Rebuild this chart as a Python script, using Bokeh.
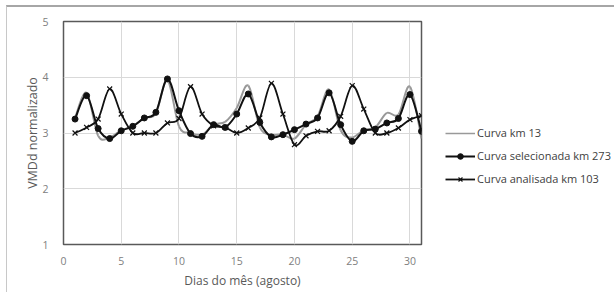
from bokeh.plotting import figure
from bokeh.layouts import row
from bokeh.models import Legend, LegendItem, FixedTicker, Range1d, ColumnDataSource, InlineStyleSheet
from bokeh.embed import file_html
from bokeh.resources import INLINE

days = list(range(1, 32))
km13 = [3.27, 3.72, 2.95, 2.92, 3.05, 3.12, 3.27, 3.35, 3.95, 3.12, 3.00, 2.97,
        3.15, 3.20, 3.45, 3.85, 3.10, 2.97, 2.97, 2.90, 3.15, 3.30, 3.78, 3.05,
        2.92, 3.05, 3.10, 3.36, 3.33, 3.83, 2.90]
km273 = [3.25, 3.67, 3.08, 2.90, 3.04, 3.12, 3.27, 3.37, 3.97, 3.40, 2.99, 2.94,
         3.15, 3.10, 3.34, 3.70, 3.19, 2.93, 2.97, 3.06, 3.16, 3.27, 3.72, 3.15,
         2.85, 3.04, 3.07, 3.18, 3.26, 3.69, 3.03]
km103 = [3.00, 3.10, 3.25, 3.79, 3.34, 3.00, 3.00, 3.00, 3.18, 3.26, 3.83, 3.34,
         3.13, 3.10, 3.00, 3.09, 3.27, 3.89, 3.34, 2.79, 2.95, 3.03, 3.04, 3.30,
         3.85, 3.43, 3.00, 3.00, 3.09, 3.24, 3.31]
labels = ["Curva km 13", "Curva selecionada km 273", "Curva analisada km 103"]
x_ticks = [0, 5, 10, 15, 20, 25, 30]
y_ticks = [1, 2, 3, 4, 5]

FONT = "Open Sans"
GRAY = "#999999"
BLACK = "#111111"


def smooth_segments(xs, ys, t=1.0 / 6):
    n = len(xs)
    d = dict(x0=[], y0=[], x1=[], y1=[], cx0=[], cy0=[], cx1=[], cy1=[])
    for i in range(n - 1):
        im1 = max(i - 1, 0)
        ip2 = min(i + 2, n - 1)
        d["x0"].append(xs[i]); d["y0"].append(ys[i])
        d["x1"].append(xs[i + 1]); d["y1"].append(ys[i + 1])
        d["cx0"].append(xs[i] + (xs[i + 1] - xs[im1]) * t)
        d["cy0"].append(ys[i] + (ys[i + 1] - ys[im1]) * t)
        d["cx1"].append(xs[i + 1] - (xs[ip2] - xs[i]) * t)
        d["cy1"].append(ys[i + 1] - (ys[ip2] - ys[i]) * t)
    return ColumnDataSource(d)


p = figure(width=419, height=287, output_backend="svg", toolbar_location=None,
           x_range=Range1d(0, 31), y_range=Range1d(1, 5),
           min_border_left=56, min_border_right=5, min_border_top=14,
           min_border_bottom=50)
p.stylesheets = [InlineStyleSheet(
    css=":host { margin-left: 6px; margin-top: 5px; "
        "border-left: 1px solid #c8c8c8; border-top: 2px solid #a6a6a6; }")]

p.outline_line_color = "#595959"
p.outline_line_width = 1.5
for ax in (p.xaxis[0], p.yaxis[0]):
    ax.axis_line_color = None
    ax.major_tick_line_color = None
    ax.minor_tick_line_color = None
    ax.major_label_text_font = FONT
    ax.major_label_text_font_size = "10.5px"
    ax.major_label_text_color = "#808080"
    ax.axis_label_text_font = FONT
    ax.axis_label_text_font_size = "12px"
    ax.axis_label_text_font_style = "normal"
    ax.axis_label_text_color = "#595959"
p.yaxis.axis_label_text_font_size = "12.5px"

p.xaxis.ticker = FixedTicker(ticks=x_ticks)
p.yaxis.ticker = FixedTicker(ticks=y_ticks)
p.xaxis.axis_label = "Dias do mês (agosto)"
p.yaxis.axis_label = "VMDd normalizado"
p.xaxis.major_label_standoff = 6
p.xaxis.axis_label_standoff = 4
p.yaxis.major_label_standoff = 9
p.yaxis.axis_label_standoff = -2

p.xgrid.grid_line_color = "#d9d9d9"
p.ygrid.grid_line_color = "#d9d9d9"

p.bezier(x0="x0", y0="y0", x1="x1", y1="y1", cx0="cx0", cy0="cy0",
         cx1="cx1", cy1="cy1", source=smooth_segments(days, km13),
         line_color=GRAY, line_width=2)
p.bezier(x0="x0", y0="y0", x1="x1", y1="y1", cx0="cx0", cy0="cy0",
         cx1="cx1", cy1="cy1", source=smooth_segments(days, km273),
         line_color=BLACK, line_width=2)
p.scatter(days, km273, marker="circle", size=6, fill_color=BLACK, line_color=BLACK)
p.bezier(x0="x0", y0="y0", x1="x1", y1="y1", cx0="cx0", cy0="cy0",
         cx1="cx1", cy1="cy1", source=smooth_segments(days, km103),
         line_color=BLACK, line_width=1.8)
p.scatter(days, km103, marker="x", size=7, line_color=BLACK, line_width=1.2)

# legend panel (series drawn outside its visible range, shown only as legend keys)
q = figure(width=189, height=287, output_backend="svg", toolbar_location=None,
           x_range=Range1d(100, 101), y_range=Range1d(100, 101),
           min_border=0, outline_line_color=None)
q.stylesheets = [InlineStyleSheet(
    css=":host { margin-top: 5px; border-top: 2px solid #a6a6a6; }")]
q.axis.visible = False
q.grid.visible = False
l13 = q.line(days, km13, line_color=GRAY, line_width=1.5)
l273 = q.line(days, km273, line_color=BLACK, line_width=2)
s273 = q.scatter(days, km273, marker="circle", size=5,
                 fill_color=BLACK, line_color=BLACK)
l103 = q.line(days, km103, line_color=BLACK, line_width=1.8)
s103 = q.scatter(days, km103, marker="x", size=7, line_color=BLACK,
                 line_width=1.2)

legend = Legend(items=[
    LegendItem(label=labels[0], renderers=[l13]),
    LegendItem(label=labels[1], renderers=[l273, s273]),
    LegendItem(label=labels[2], renderers=[l103, s103]),
], location=(20, 58))
legend.border_line_color = None
legend.background_fill_alpha = 0
legend.padding = 0
legend.margin = 0
legend.glyph_width = 30
legend.glyph_height = 14
legend.spacing = 8
legend.label_standoff = 2
legend.label_text_font = FONT
legend.label_text_font_size = "11px"
legend.label_text_color = "#404040"
q.add_layout(legend, "center")

layout = row(p, q, spacing=0)

open("out.html", "w").write(file_html(layout, INLINE))
